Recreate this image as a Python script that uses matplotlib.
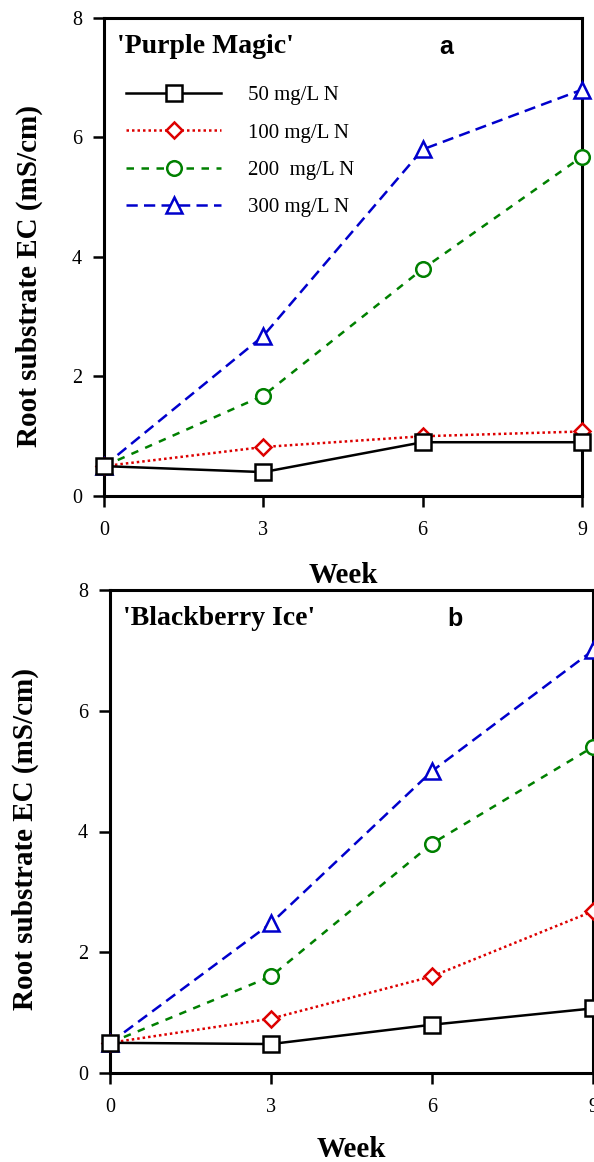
import matplotlib
matplotlib.use("Agg")
import matplotlib.pyplot as plt

plt.rcParams['font.family'] = ['Liberation Serif', 'DejaVu Serif']

weeks = [0, 3, 6, 9]
labels = ['50 mg/L N', '100 mg/L N', '200  mg/L N', '300 mg/L N']

# 'Purple Magic'
pm_50 = [0.5, 0.4, 0.9, 0.9]
pm_100 = [0.5, 0.82, 1.0, 1.08]
pm_200 = [0.5, 1.68, 3.8, 5.68]
pm_300 = [0.5, 2.68, 5.8, 6.8]

# 'Blackberry Ice'
bi_50 = [0.5, 0.48, 0.8, 1.07]
bi_100 = [0.5, 0.9, 1.6, 2.68]
bi_200 = [0.5, 1.6, 3.8, 5.4]
bi_300 = [0.5, 2.48, 5.0, 7.0]

styles = [
    dict(color='black', ls='-', marker='s', ms=11),
    dict(color='#dd0000', ls=(0, (1, 1.2)), marker='D', ms=8.5),
    dict(color='#008000', ls=(0, (3, 3)), marker='o', ms=10.5),
    dict(color='#0000cc', ls=(0, (4.5, 2.5)), marker='^', ms=11),
]


def draw_panel(ax, series, title, letter, ylab_xy, week_pad, legend=False):
    handles = []
    for i in [3, 2, 1, 0]:
        st = styles[i]
        h, = ax.plot(weeks, series[i], color=st['color'], linestyle=st['ls'],
                     linewidth=1.8, marker=st['marker'], markersize=st['ms'],
                     markerfacecolor='white', markeredgecolor=st['color'],
                     markeredgewidth=1.8, clip_on=False, zorder=3 + (3 - i),
                     label=labels[i])
        handles.append(h)
    handles = handles[::-1]
    ax.set_xlim(0, 9)
    ax.set_ylim(0, 8)
    ax.set_xticks(weeks)
    ax.set_yticks([0, 2, 4, 6, 8])
    for s in ax.spines.values():
        s.set_linewidth(2.2)
    ax.tick_params(direction='out', length=8, width=1.8, labelsize=14.5)
    ax.tick_params(axis='x', pad=10)
    ax.tick_params(axis='y', pad=8)
    ax.set_xlabel('Week', fontsize=21, fontweight='bold', labelpad=week_pad)
    ax.set_ylabel('Root substrate EC (mS/cm)', fontsize=21, fontweight='bold')
    ax.yaxis.set_label_coords(*ylab_xy)
    ax.text(0.027, 0.94, title, transform=ax.transAxes, fontsize=20,
            fontweight='bold', va='center', ha='left')
    ax.text(0.715, 0.94, letter, transform=ax.transAxes, fontsize=18,
            fontweight='bold', va='center', ha='center',
            family=['Liberation Sans', 'DejaVu Sans'])
    if legend:
        ax.legend(handles=handles, loc='upper left', bbox_to_anchor=(0.016, 0.889),
                  frameon=False, fontsize=15, handlelength=4.55, handletextpad=1.3,
                  labelspacing=0.85, numpoints=1, borderpad=0.2)


fig = plt.figure(figsize=(5.94, 11.62), dpi=100)
ax1 = fig.add_axes([104 / 594, 1 - 496 / 1162, 478 / 594, 478 / 1162])
ax2 = fig.add_axes([110 / 594, 1 - 1073 / 1162, 483 / 594, 483 / 1162])

draw_panel(ax1, [pm_50, pm_100, pm_200, pm_300], "'Purple Magic'", 'a',
           (-0.127, 0.46), 16, legend=True)
draw_panel(ax2, [bi_50, bi_100, bi_200, bi_300], "'Blackberry Ice'", 'b',
           (-0.148, 0.484), 14)

fig.savefig('out.png', dpi=100)
